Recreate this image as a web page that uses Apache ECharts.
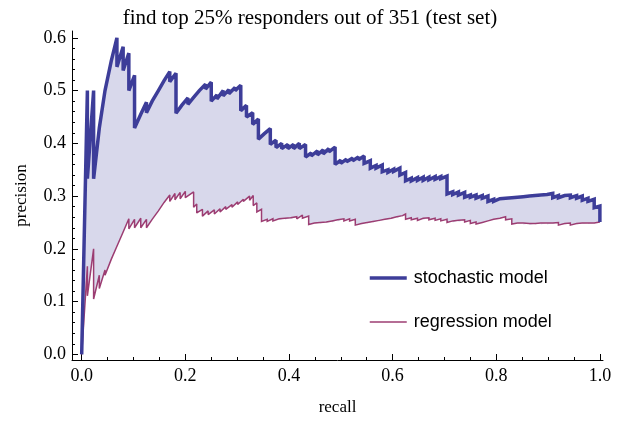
<!DOCTYPE html>
<html>
<head>
<meta charset="utf-8">
<script src="https://cdn.jsdelivr.net/npm/echarts@6/dist/echarts.min.js"></script>
<style>
html,body{margin:0;padding:0;background:#fff;}
#chart{width:620px;height:421px;}
</style>
</head>
<body>
<div id="chart"></div>
<script>
// tick labels
var xMajor = [0, 0.2, 0.4, 0.6, 0.8, 1.0];
var xMinor = [0.05, 0.1, 0.15, 0.25, 0.3, 0.35, 0.45, 0.5, 0.55, 0.65, 0.7, 0.75, 0.85, 0.9, 0.95];
var yMajor = [0, 0.1, 0.2, 0.3, 0.4, 0.5, 0.6];
var yMinor = [0.02, 0.04, 0.06, 0.08, 0.12, 0.14, 0.16, 0.18, 0.22, 0.24, 0.26, 0.28, 0.32, 0.34, 0.36, 0.38, 0.42, 0.44, 0.46, 0.48, 0.52, 0.54, 0.56, 0.58];

var seriesNames = ["stochastic model", "regression model"];

// [recall, precision]
var stochastic = [
	[0, 0],
	[0.011, 0.5], [0.011, 0.333],
	[0.023, 0.5], [0.023, 0.333],
	[0.034, 0.429], [0.045, 0.5], [0.057, 0.556], [0.068, 0.6],
	[0.068, 0.545], [0.080, 0.583],
	[0.080, 0.538], [0.091, 0.571],
	[0.091, 0.5], [0.102, 0.529],
	[0.102, 0.429], [0.114, 0.455], [0.125, 0.478],
	[0.125, 0.458], [0.136, 0.48], [0.148, 0.5], [0.159, 0.519], [0.170, 0.536],
	[0.170, 0.517], [0.182, 0.533],
	[0.182, 0.457], [0.193, 0.472], [0.205, 0.486],
	[0.205, 0.474], [0.216, 0.487], [0.227, 0.5], [0.239, 0.512],
	[0.239, 0.503], [0.250, 0.516],
	[0.250, 0.48], [0.261, 0.492],
	[0.261, 0.484], [0.273, 0.5],
	[0.273, 0.49], [0.284, 0.502],
	[0.284, 0.494], [0.296, 0.506],
	[0.296, 0.5], [0.307, 0.51],
	[0.307, 0.462], [0.318, 0.472],
	[0.318, 0.45], [0.330, 0.458],
	[0.330, 0.436], [0.341, 0.446],
	[0.341, 0.408], [0.352, 0.418], [0.364, 0.428],
	[0.364, 0.398], [0.375, 0.406],
	[0.375, 0.392], [0.386, 0.4],
	[0.386, 0.39], [0.398, 0.398],
	[0.398, 0.39], [0.409, 0.398],
	[0.409, 0.39], [0.420, 0.4],
	[0.420, 0.39], [0.432, 0.398],
	[0.432, 0.374], [0.443, 0.382],
	[0.443, 0.376], [0.455, 0.386],
	[0.455, 0.378], [0.466, 0.388],
	[0.466, 0.38], [0.477, 0.39],
	[0.477, 0.384], [0.489, 0.393],
	[0.489, 0.36], [0.500, 0.368],
	[0.500, 0.362], [0.511, 0.37],
	[0.511, 0.365], [0.523, 0.372],
	[0.523, 0.367], [0.534, 0.374],
	[0.534, 0.369], [0.545, 0.376],
	[0.545, 0.362], [0.557, 0.367],
	[0.557, 0.353], [0.568, 0.358],
	[0.568, 0.353], [0.580, 0.359],
	[0.580, 0.346], [0.591, 0.35],
	[0.591, 0.345], [0.602, 0.351],
	[0.602, 0.347], [0.614, 0.353],
	[0.614, 0.34], [0.625, 0.345],
	[0.625, 0.329], [0.636, 0.334],
	[0.636, 0.329], [0.648, 0.335],
	[0.648, 0.33], [0.659, 0.336],
	[0.659, 0.33], [0.670, 0.336],
	[0.670, 0.331], [0.682, 0.337],
	[0.682, 0.332], [0.693, 0.337],
	[0.693, 0.333], [0.705, 0.338],
	[0.705, 0.304], [0.716, 0.308],
	[0.716, 0.303], [0.727, 0.308],
	[0.727, 0.302], [0.739, 0.307],
	[0.739, 0.298], [0.750, 0.302],
	[0.750, 0.298], [0.761, 0.302],
	[0.761, 0.296], [0.773, 0.301],
	[0.773, 0.296], [0.784, 0.3],
	[0.784, 0.29], [0.795, 0.294],
	[0.795, 0.29], [0.807, 0.295],
	[0.807, 0.292], [0.818, 0.296],
	[0.818, 0.293], [0.830, 0.297],
	[0.830, 0.294], [0.841, 0.298],
	[0.841, 0.295], [0.852, 0.299],
	[0.852, 0.296], [0.864, 0.3],
	[0.864, 0.297], [0.875, 0.301],
	[0.875, 0.298], [0.886, 0.302],
	[0.886, 0.299], [0.898, 0.303],
	[0.898, 0.3], [0.909, 0.305],
	[0.909, 0.297], [0.920, 0.301],
	[0.920, 0.297], [0.932, 0.301],
	[0.932, 0.298], [0.943, 0.302],
	[0.943, 0.297], [0.955, 0.301],
	[0.955, 0.296], [0.966, 0.3],
	[0.966, 0.292], [0.977, 0.296],
	[0.977, 0.29], [0.989, 0.294],
	[0.989, 0.278], [1.0, 0.281],
	[1.0, 0.251]
];

var regression = [
	[0, 0],
	[0.011, 0.167], [0.011, 0.111],
	[0.023, 0.2], [0.023, 0.105],
	[0.034, 0.15], [0.034, 0.125],
	[0.045, 0.16], [0.045, 0.15],
	[0.057, 0.18], [0.068, 0.205], [0.080, 0.232], [0.091, 0.257],
	[0.091, 0.238], [0.102, 0.256],
	[0.102, 0.24], [0.114, 0.258],
	[0.114, 0.24], [0.125, 0.256],
	[0.125, 0.24], [0.136, 0.256], [0.148, 0.272], [0.159, 0.288], [0.170, 0.302],
	[0.170, 0.29], [0.180, 0.305],
	[0.180, 0.293], [0.190, 0.307],
	[0.190, 0.295], [0.200, 0.309],
	[0.200, 0.297], [0.216, 0.308],
	[0.216, 0.279], [0.222, 0.285],
	[0.222, 0.268], [0.233, 0.275],
	[0.233, 0.262], [0.244, 0.272],
	[0.244, 0.265], [0.256, 0.274],
	[0.256, 0.266], [0.267, 0.276],
	[0.267, 0.27], [0.278, 0.28],
	[0.278, 0.275], [0.290, 0.284],
	[0.290, 0.279], [0.301, 0.289],
	[0.301, 0.284], [0.312, 0.294],
	[0.312, 0.29], [0.324, 0.3],
	[0.324, 0.292], [0.331, 0.301],
	[0.331, 0.282], [0.338, 0.287],
	[0.338, 0.27], [0.347, 0.275],
	[0.347, 0.252], [0.358, 0.256],
	[0.358, 0.252], [0.369, 0.257],
	[0.369, 0.253], [0.381, 0.257],
	[0.381, 0.254], [0.392, 0.258],
	[0.392, 0.255], [0.403, 0.259],
	[0.403, 0.256], [0.415, 0.261],
	[0.415, 0.257], [0.426, 0.264],
	[0.426, 0.258], [0.438, 0.262],
	[0.438, 0.246], [0.449, 0.249],
	[0.449, 0.247], [0.460, 0.25],
	[0.460, 0.248], [0.472, 0.251],
	[0.472, 0.249], [0.483, 0.253],
	[0.483, 0.25], [0.494, 0.255],
	[0.494, 0.252], [0.506, 0.257],
	[0.506, 0.253], [0.517, 0.257],
	[0.517, 0.253], [0.528, 0.256],
	[0.528, 0.245], [0.540, 0.248],
	[0.540, 0.246], [0.551, 0.25],
	[0.551, 0.248], [0.562, 0.252],
	[0.562, 0.25], [0.574, 0.254],
	[0.574, 0.252], [0.585, 0.256],
	[0.585, 0.254], [0.597, 0.258],
	[0.597, 0.256], [0.608, 0.261],
	[0.608, 0.258], [0.619, 0.263],
	[0.619, 0.26], [0.625, 0.266],
	[0.625, 0.256], [0.636, 0.259],
	[0.636, 0.255], [0.648, 0.258],
	[0.648, 0.254], [0.659, 0.258],
	[0.659, 0.255], [0.670, 0.259],
	[0.670, 0.255], [0.682, 0.258],
	[0.682, 0.254], [0.693, 0.257],
	[0.693, 0.253], [0.705, 0.256],
	[0.705, 0.25], [0.716, 0.253],
	[0.716, 0.25], [0.727, 0.254],
	[0.727, 0.251], [0.739, 0.255],
	[0.739, 0.251], [0.750, 0.254],
	[0.750, 0.248], [0.761, 0.251],
	[0.761, 0.247], [0.773, 0.25], [0.784, 0.253], [0.795, 0.256], [0.807, 0.258], [0.818, 0.261],
	[0.818, 0.255], [0.830, 0.257],
	[0.830, 0.247], [0.841, 0.249],
	[0.841, 0.247], [0.852, 0.249],
	[0.852, 0.246], [0.864, 0.248],
	[0.864, 0.245], [0.875, 0.248],
	[0.875, 0.246], [0.886, 0.249],
	[0.886, 0.246], [0.898, 0.249],
	[0.898, 0.246], [0.909, 0.249],
	[0.909, 0.247], [0.920, 0.25],
	[0.920, 0.245], [0.932, 0.248],
	[0.932, 0.246], [0.943, 0.249],
	[0.943, 0.245], [0.955, 0.248],
	[0.955, 0.246], [0.966, 0.249],
	[0.966, 0.247], [0.977, 0.249],
	[0.977, 0.247], [0.989, 0.249],
	[0.989, 0.248], [1.0, 0.251]
];

var blue = "#3d3d99";
var purple = "#9c3d72";
var serif = "Liberation Serif";

var xMin = -0.0187, xMax = 1.006;
var yMin = -0.0107, yMax = 0.613;

//填充区域：上曲线 + 反向下曲线
var band = stochastic.concat(regression.slice().reverse());

//只画短刻度的辅助轴
function tickAxis(type, values, len){
	return {
		type: "value",
		gridIndex: 0,
		position: type == "x" ? "bottom" : "left",
		min: type == "x" ? xMin : yMin,
		max: type == "x" ? xMax : yMax,
		axisLine: {show: false, onZero: false},
		splitLine: {show: false},
		axisLabel: {show: false},
		axisTick: {show: true, inside: true, length: len, customValues: values, lineStyle: {color: "#000", width: 1}}
	};
}

var hideSymbol = {color: "rgba(0,0,0,0)", borderWidth: 0, opacity: 0};

var myChart = echarts.init(document.getElementById("chart"));

myChart.setOption({
	animation: false,
	backgroundColor: "#fff",
	title: {
		text: "find top 25% responders out of 351 (test set)",
		left: "center",
		top: 3,
		textStyle: {fontFamily: serif, fontSize: 21, fontWeight: "normal", color: "#000"}
	},
	legend: {
		data: [
			{name: seriesNames[0], itemStyle: hideSymbol, lineStyle: {width: 3.5}},
			{name: seriesNames[1], itemStyle: hideSymbol, lineStyle: {width: 1.5}}
		],
		orient: "vertical",
		left: 363,
		top: 264,
		itemWidth: 37,
		itemHeight: 20,
		itemGap: 26,
		textStyle: {fontFamily: "Liberation Sans", fontSize: 18, color: "#000", padding: [0, 0, 0, 2]}
	},
	grid: {left: 72, right: 17, top: 31, bottom: 56, containLabel: false},
	xAxis: [{
		type: "value",
		min: xMin,
		max: xMax,
		name: "recall",
		nameLocation: "middle",
		nameGap: 39,
		nameTextStyle: {fontFamily: serif, fontSize: 17, color: "#000"},
		axisLine: {show: true, onZero: false, lineStyle: {color: "#000", width: 1}},
		axisTick: {show: true, inside: true, length: 6, customValues: xMajor, lineStyle: {color: "#000"}},
		axisLabel: {customValues: xMajor, fontFamily: serif, fontSize: 18, color: "#000", margin: 7,
			formatter: function(v){ return v.toFixed(1); }},
		splitLine: {show: false}
	}, tickAxis("x", xMinor, 3)],
	yAxis: [{
		type: "value",
		min: yMin,
		max: yMax,
		name: "precision",
		nameLocation: "middle",
		nameGap: 42,
		nameTextStyle: {fontFamily: serif, fontSize: 17, color: "#000"},
		axisLine: {show: true, onZero: false, lineStyle: {color: "#000", width: 1}},
		axisTick: {show: true, inside: true, length: 6, customValues: yMajor, lineStyle: {color: "#000"}},
		axisLabel: {customValues: yMajor, fontFamily: serif, fontSize: 18, color: "#000", margin: 6,
			formatter: function(v){ return v.toFixed(1); }},
		splitLine: {show: false}
	}, tickAxis("y", yMinor, 3)],
	series: [{
		type: "custom",
		name: "band",
		xAxisIndex: 0,
		yAxisIndex: 0,
		data: band,
		silent: true,
		z: 1,
		renderItem: function(params, api){
			if(params.dataIndex != 0) return;
			var pts = [];
			for(var i=0; i<band.length; i++) pts.push(api.coord(band[i]));
			return {type: "polygon", shape: {points: pts}, style: {fill: "#d8d8eb"}};
		}
	}, {
		type: "line",
		name: seriesNames[1],
		data: regression,
		showSymbol: false,
		symbol: "none",
		z: 3,
		color: purple,
		lineStyle: {color: purple, width: 1.5, join: "miter", miterLimit: 2}
	}, {
		type: "line",
		name: seriesNames[0],
		data: stochastic,
		showSymbol: false,
		symbol: "none",
		z: 4,
		color: blue,
		lineStyle: {color: blue, width: 3.5, join: "miter", miterLimit: 2}
	}]
});
</script>
</body>
</html>
